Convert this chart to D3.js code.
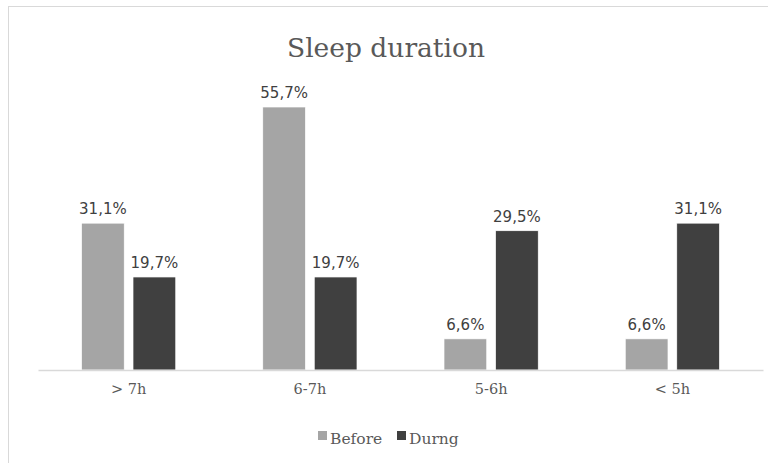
<!DOCTYPE html>
<html>
<head>
<meta charset="utf-8">
<script src="https://cdn.jsdelivr.net/npm/d3@7"></script>
<style>
  html, body { margin: 0; padding: 0; background: #fff; }
  svg { display: block; }
</style>
</head>
<body>
<svg id="chart" width="768" height="463"></svg>
<script>
// Sleep duration before / during, share of respondents (%)
const categories = ["> 7h", "6-7h", "5-6h", "< 5h"];
const seriesNames = ["Before", "Durng"];
const beforeValues = [31.1, 55.7, 6.6, 6.6];
const duringValues = [19.7, 19.7, 29.5, 31.1];
const seriesColors = ["#a5a5a5", "#404040"];

const svg = d3.select("#chart");
const W = 768, H = 463;

// outer chart frame
svg.append("rect")
  .attr("x", 8.5).attr("y", 6.5)
  .attr("width", W + 10).attr("height", H + 10)
  .attr("fill", "#fff").attr("stroke", "#d9d9d9").attr("stroke-width", 1);

const plot = { left: 38, right: 763, top: 60, bottom: 370 };

const x0 = d3.scaleBand()
  .domain(categories)
  .range([plot.left, plot.right])
  .paddingInner(0.48).paddingOuter(0.24);

const x1 = d3.scaleBand()
  .domain(seriesNames)
  .range([0, x0.bandwidth()])
  .paddingInner(0.17);

const y = d3.scaleLinear()
  .domain([0, 55.7])
  .range([plot.bottom, plot.bottom - 263]);

const rows = categories.map((c, i) => ({
  cat: c,
  vals: [
    { s: seriesNames[0], v: beforeValues[i], color: seriesColors[0] },
    { s: seriesNames[1], v: duringValues[i], color: seriesColors[1] }
  ]
}));

// title
svg.append("text")
  .attr("x", 386).attr("y", 57)
  .attr("text-anchor", "middle")
  .attr("font-family", "'DejaVu Serif', 'Liberation Serif', serif")
  .attr("font-size", 26.5)
  .attr("fill", "#595959")
  .text("Sleep duration");

const groups = svg.append("g").selectAll("g")
  .data(rows).join("g")
  .attr("transform", d => `translate(${x0(d.cat)},0)`);

groups.selectAll("rect")
  .data(d => d.vals).join("rect")
  .attr("x", d => x1(d.s))
  .attr("y", d => y(d.v))
  .attr("width", x1.bandwidth())
  .attr("height", d => y(0) - y(d.v))
  .attr("fill", d => d.color)
  .attr("stroke", "#fff").attr("stroke-width", 0.7);

const fmt = v => v.toFixed(1).replace(".", ",") + "%";

groups.selectAll("text.val")
  .data(d => d.vals).join("text")
  .attr("class", "val")
  .attr("x", d => x1(d.s) + x1.bandwidth() / 2)
  .attr("y", d => y(d.v) - 9)
  .attr("text-anchor", "middle")
  .attr("font-family", "'DejaVu Sans', Verdana, sans-serif")
  .attr("font-size", 15)
  .attr("fill", "#404040")
  .text(d => fmt(d.v));

// category axis
const xAxis = svg.append("g")
  .attr("transform", `translate(0,${plot.bottom})`)
  .call(d3.axisBottom(x0).tickSize(0).tickPadding(14));
xAxis.select(".domain").attr("stroke", "#d9d9d9").attr("stroke-width", 1.5);
xAxis.selectAll("text")
  .attr("font-family", "'DejaVu Serif', 'Liberation Serif', serif")
  .attr("font-size", 14.5)
  .attr("fill", "#595959");

// legend
const legend = svg.append("g");
const legendItems = [
  { name: seriesNames[0], color: seriesColors[0], x: 318 },
  { name: seriesNames[1], color: seriesColors[1], x: 397 }
];
legendItems.forEach(it => {
  legend.append("rect")
    .attr("x", it.x).attr("y", 431)
    .attr("width", 9).attr("height", 9)
    .attr("fill", it.color);
  legend.append("text")
    .attr("x", it.x + 12).attr("y", 444)
    .attr("font-family", "'DejaVu Serif', 'Liberation Serif', serif")
    .attr("font-size", 15.5)
    .attr("fill", "#595959")
    .text(it.name);
});
</script>
</body>
</html>
